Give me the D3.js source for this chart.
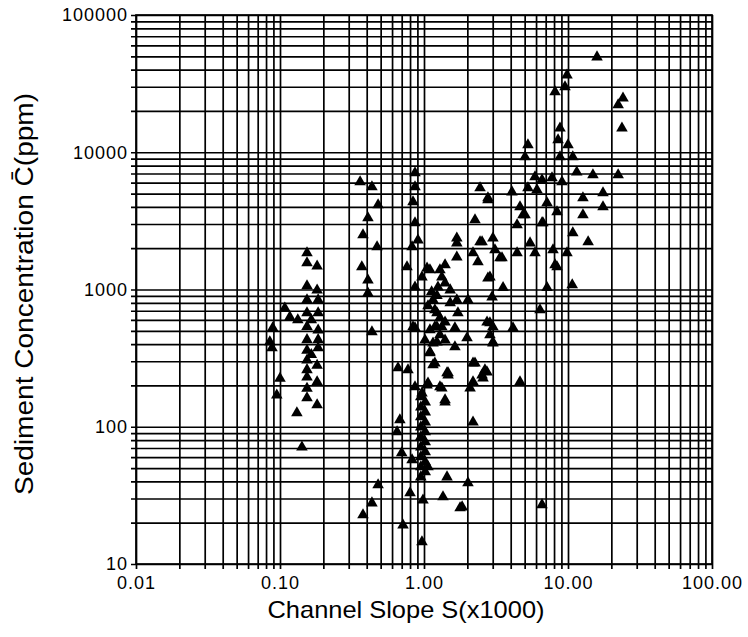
<!DOCTYPE html>
<html>
<head>
<meta charset="utf-8">
<script src="https://cdn.jsdelivr.net/npm/d3@7"></script>
<style>
  body { margin: 0; background: #fff; }
  text { font-family: "Liberation Sans", Arial, Helvetica, sans-serif; fill: #000; }
  .grid line { stroke: #000; stroke-width: 1.7; }
  .ticklabels text { letter-spacing: 1px; }
</style>
</head>
<body>
<div id="chart"></div>
<script>
'use strict';

// decade ticks on both log axes
var xMajor = [0.01, 0.1, 1, 10, 100];
var yMajor = [10, 100, 1000, 10000, 100000];

// [slope S(x1000), concentration C (ppm)]
var lowSlope = [
  [0.154, 1845], [0.154, 1560], [0.181, 1480], [0.154, 1060], [0.181, 990],
  [0.184, 840], [0.154, 840], [0.108, 730], [0.117, 630], [0.133, 600],
  [0.154, 675], [0.184, 675], [0.089, 525], [0.154, 535], [0.184, 505],
  [0.085, 415], [0.088, 375], [0.154, 430], [0.184, 430], [0.154, 360],
  [0.184, 375], [0.154, 305], [0.181, 280], [0.154, 260], [0.100, 225],
  [0.154, 230], [0.181, 212], [0.095, 170], [0.154, 190], [0.154, 162],
  [0.181, 144], [0.131, 126], [0.142, 71], [0.165, 600], [0.165, 335]
];

var midSlope = [
  [0.36, 6070], [0.435, 5580], [0.866, 7060], [0.866, 5580], [0.48, 4130],
  [0.839, 4340], [0.408, 3320], [0.866, 3050], [0.377, 2500], [0.908, 2290],
  [0.472, 2040], [0.826, 2040], [0.37, 1460], [0.762, 1460], [1.05, 1430],
  [1.29, 1390], [0.408, 1170], [0.968, 1230], [0.408, 942], [0.866, 1040],
  [0.435, 490], [0.839, 533], [1.23, 414], [1.10, 345], [0.66, 268],
  [0.774, 259], [1.19, 291], [1.445, 247], [0.866, 195], [1.05, 201],
  [1.29, 195], [0.968, 176], [1.40, 151], [0.68, 112], [0.65, 91.6],
  [0.70, 64.4], [0.826, 57.3], [1.066, 50.9], [1.445, 43.0], [0.48, 37.7],
  [0.80, 32.9], [1.355, 30.8], [0.435, 27.8], [0.984, 29.2], [0.377, 22.8],
  [0.715, 19.2], [0.968, 14.5], [1.78, 25.6], [2.02, 38.9], [1.84, 26.0],
  [2.19, 108]
];

var nearOne = [
  [0.95, 165], [1.02, 151], [0.95, 139], [1.02, 128], [0.95, 118],
  [1.02, 108], [0.95, 99.5], [1.02, 91.6], [0.95, 84.2], [1.02, 77.4],
  [0.95, 71], [1.02, 65.5], [0.95, 60.2], [1.02, 55.4], [0.95, 50.9],
  [1.02, 46.8], [0.95, 43],
  [0.866, 524], [1.19, 533], [1.33, 533], [1.64, 524], [2.87, 570],
  [1.155, 407], [1.64, 381], [1.99, 443], [3.01, 414], [1.10, 351],
  [1.155, 282], [1.47, 247], [2.26, 291], [2.74, 250], [2.57, 226],
  [1.066, 208], [1.33, 191], [2.09, 191], [1.40, 157], [1.10, 1390],
  [1.33, 1230], [1.40, 1510], [1.25, 1040], [1.23, 900], [1.155, 840],
  [1.23, 675], [1.23, 533], [1.52, 797], [1.69, 838], [2.02, 838],
  [1.72, 675], [1.47, 238], [1.066, 760], [1.19, 709], [1.29, 620],
  [1.40, 579], [1.10, 507], [1.29, 466], [1.016, 428], [1.40, 428],
  [1.52, 991], [1.40, 1110], [1.13, 960]
];

var highSlope = [
  [1.69, 2370], [1.69, 2180], [1.69, 1720], [2.26, 3210], [2.53, 2220],
  [3.01, 2370], [3.11, 1940], [2.19, 1845], [2.37, 1590], [3.37, 1700],
  [4.43, 1845], [5.45, 2180], [5.90, 1845], [8.13, 1510], [2.78, 1210],
  [3.54, 1030], [7.15, 1030], [2.97, 881], [6.39, 709], [2.74, 579],
  [3.01, 533], [4.15, 524], [2.87, 466], [3.01, 407], [2.19, 291],
  [2.65, 259], [2.53, 238], [2.19, 212], [4.64, 212], [2.78, 4490],
  [4.64, 3990], [7.15, 4270], [5.03, 3490], [8.39, 3670], [6.70, 3050],
  [15.9, 49400], [9.84, 36500], [9.53, 29900], [8.13, 27500], [24.1, 24800],
  [22.3, 22100], [23.7, 15000], [8.80, 15000], [8.53, 12300], [10.0, 11300],
  [5.27, 11300], [5.03, 9230], [8.80, 9230], [10.8, 9230], [11.5, 7170],
  [14.9, 6830], [22.3, 6830], [5.90, 6600], [7.74, 6490], [9.08, 6070],
  [6.60, 6280], [2.45, 5490], [4.08, 5130], [5.27, 5490], [6.09, 5310],
  [17.5, 5050], [2.78, 4640], [12.7, 4640], [17.5, 3990], [4.87, 3490],
  [12.7, 3490], [4.43, 2950], [6.60, 3050], [10.8, 2580], [13.8, 2220],
  [2.45, 2220], [3.48, 1700], [7.87, 1940], [9.84, 1845], [8.39, 1460],
  [2.87, 1230], [10.7, 1080], [6.6, 27]
];

var points = lowSlope.concat(midSlope, nearOne, highSlope);

var margin = {top: 15, right: 36, bottom: 73, left: 136};
var width = 748 - margin.left - margin.right;
var height = 637 - margin.top - margin.bottom;

// 1..9 times every decade, for the grid
function logTicks(major) {
  var out = [];
  for (var i = 0; i < major.length - 1; i++) {
    for (var k = 1; k < 10; k++) out.push(major[i] * k);
  }
  out.push(major[major.length - 1]);
  return out;
}

var x = d3.scaleLog().domain([xMajor[0], xMajor[xMajor.length - 1]]).range([0, width]);
var y = d3.scaleLog().domain([yMajor[0], yMajor[yMajor.length - 1]]).range([height, 0]);

var svg = d3.select('#chart').append('svg')
    .attr('width', 748)
    .attr('height', 637)
  .append('g')
    .attr('transform', 'translate(' + margin.left + ',' + margin.top + ')');

// grid lines, pushed 5px out of the frame so they double as ticks
svg.append('g')
    .attr('class', 'grid')
    .attr('transform', 'translate(0,' + (height + 5) + ')')
    .call(d3.axisBottom(x).tickValues(logTicks(xMajor)).tickSize(-(height + 5)).tickFormat(''))
    .call(function (g) { g.select('.domain').remove(); });

svg.append('g')
    .attr('class', 'grid')
    .attr('transform', 'translate(-5,0)')
    .call(d3.axisLeft(y).tickValues(logTicks(yMajor)).tickSize(-(width + 5)).tickFormat(''))
    .call(function (g) { g.select('.domain').remove(); });

svg.append('rect')
    .attr('width', width)
    .attr('height', height)
    .attr('fill', 'none')
    .attr('stroke', '#000')
    .attr('stroke-width', 1.7);

// tick labels
svg.append('g')
    .attr('class', 'ticklabels')
    .attr('transform', 'translate(0,' + height + ')')
    .call(d3.axisBottom(x).tickValues(xMajor).tickSize(0).tickPadding(12).tickFormat(d3.format('.2f')))
    .call(function (g) { g.select('.domain').remove(); })
    .attr('font-size', 18)
    .attr('font-family', null);

svg.append('g')
    .attr('class', 'ticklabels')
    .call(d3.axisLeft(y).tickValues(yMajor).tickSize(0).tickPadding(8).tickFormat(d3.format('d')))
    .call(function (g) { g.select('.domain').remove(); })
    .attr('font-size', 18)
    .attr('font-family', null);

// axis titles
svg.append('text')
    .attr('x', 406 - margin.left)
    .attr('y', 618 - margin.top)
    .attr('text-anchor', 'middle')
    .attr('font-size', 24)
    .attr('textLength', 277)
    .attr('lengthAdjust', 'spacingAndGlyphs')
    .text('Channel Slope S(x1000)');

svg.append('text')
    .attr('transform', 'translate(' + (33 - margin.left) + ',' + (294 - margin.top) + ') rotate(-90)')
    .attr('text-anchor', 'middle')
    .attr('font-size', 25)
    .attr('textLength', 402)
    .attr('lengthAdjust', 'spacingAndGlyphs')
    .text('Sediment Concentration C\u0304(ppm)');

// data
svg.append('g')
  .selectAll('path.pt')
    .data(points)
    .enter()
    .append('path')
    .attr('class', 'pt')
    .attr('transform', function (d) { return 'translate(' + x(d[0]) + ',' + y(d[1]) + ')'; })
    .attr('d', d3.symbol(d3.symbolTriangle, 58))
    .attr('fill', '#000');
</script>
</body>
</html>
